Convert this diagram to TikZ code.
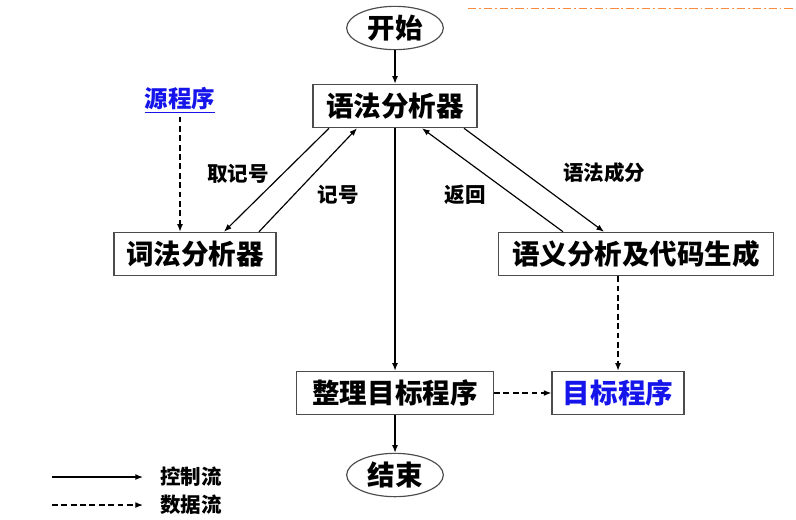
\documentclass[tikz,border=0pt]{standalone}
\usepackage{fontspec}
\setmainfont{Noto Sans CJK SC}
\usepackage{xcolor}
\usepackage{tikz}
\usetikzlibrary{shapes.geometric, arrows.meta, positioning, calc}
\definecolor{linkblue}{RGB}{20, 20, 235}
\definecolor{ruleorange}{RGB}{250, 140, 60}

\begin{document}
\begin{tikzpicture}[
          x=0.03cm, y=-0.03cm,
          procbox/.style={rectangle, draw=black!70, line width=1pt, minimum height=1.3cm, inner sep=0pt, font=\fontsize{23.5}{27}\selectfont\bfseries},
          termnode/.style={ellipse, draw=black!70, line width=1pt, minimum width=2.9cm, minimum height=1.3cm, inner sep=0pt, font=\fontsize{23.5}{27}\selectfont\bfseries},
          flowlabel/.style={font=\fontsize{17.5}{20}\selectfont\bfseries},
          ctrl/.style={-{Latex[length=6.5pt, width=5pt]}, line width=1pt},
          data/.style={ctrl, dash pattern=on 5pt off 3pt}
        ]
          \useasboundingbox (0,0) rectangle (796,519);

          % decorative rule at the top
          \coordinate (ra) at (468,8);
          \coordinate (rb) at (793,8);
          \draw[ruleorange, line width=0.8pt, dash pattern=on 7pt off 2.5pt on 1.5pt off 2.5pt] (ra) -- (rb);

          % Start / end
          \node[termnode] (start) at (395,28) {开始};
          \node[termnode] (finish) at (395,475) {结束};

          % Main modules
          \node[procbox, minimum width=4.92cm] (parser) at (395,106) {语法分析器};
          \node[procbox, minimum width=4.86cm] (lexer) at (195,254) {词法分析器};
          \node[procbox, minimum width=8.25cm] (semgen) at (636,254) {语义分析及代码生成};
          \node[procbox, minimum width=5.91cm] (tidy) at (395,393) {整理目标程序};
          \node[procbox, minimum width=3.96cm, text=linkblue] (target) at (618,393) {目标程序};

          % Source program
          \node[text=linkblue, font=\fontsize{20}{23}\selectfont\bfseries] (source) at (180,100) {\underline{源程序}};

          % Control flow
          \draw[ctrl] (start) -- (parser);
          \draw[ctrl] (parser) -- (tidy);
          \draw[ctrl] (tidy) -- (finish);
          \draw[ctrl] ($(parser.south)+(-66,0)$) -- ($(lexer.north)+(29,0)$);
          \draw[ctrl] ($(lexer.north)+(64,0)$) -- ($(parser.south)+(-38,0)$);
          \draw[ctrl] ($(parser.south)+(69,0)$) -- ($(semgen.north)+(-32,0)$);
          \draw[ctrl] ($(semgen.north)+(-73,0)$) -- ($(parser.south)+(27,0)$);

          % Data flow
          \draw[data] (source) -- (source |- lexer.north);
          \draw[data] (semgen.south -| target) -- (target);
          \draw[data] (tidy) -- (target);

          % Connector labels
          \node[flowlabel] (lbtake) at (238,174) {取记号};
          \node[flowlabel] (lbtok) at (338,195) {记号};
          \node[flowlabel] (lbret) at (465,195) {返回};
          \node[flowlabel] (lbsyn) at (604,173) {语法成分};

          % Legend
          \coordinate (la) at (52,477);
          \coordinate (lb) at (143,477);
          \coordinate (lc) at (52,505);
          \coordinate (ld) at (143,505);
          \draw[ctrl] (la) -- (lb);
          \draw[data] (lc) -- (ld);
          \node[flowlabel] (lgctrl) at (191,477) {控制流};
          \node[flowlabel] (lgdata) at (191,505) {数据流};
        \end{tikzpicture}
\end{document}
